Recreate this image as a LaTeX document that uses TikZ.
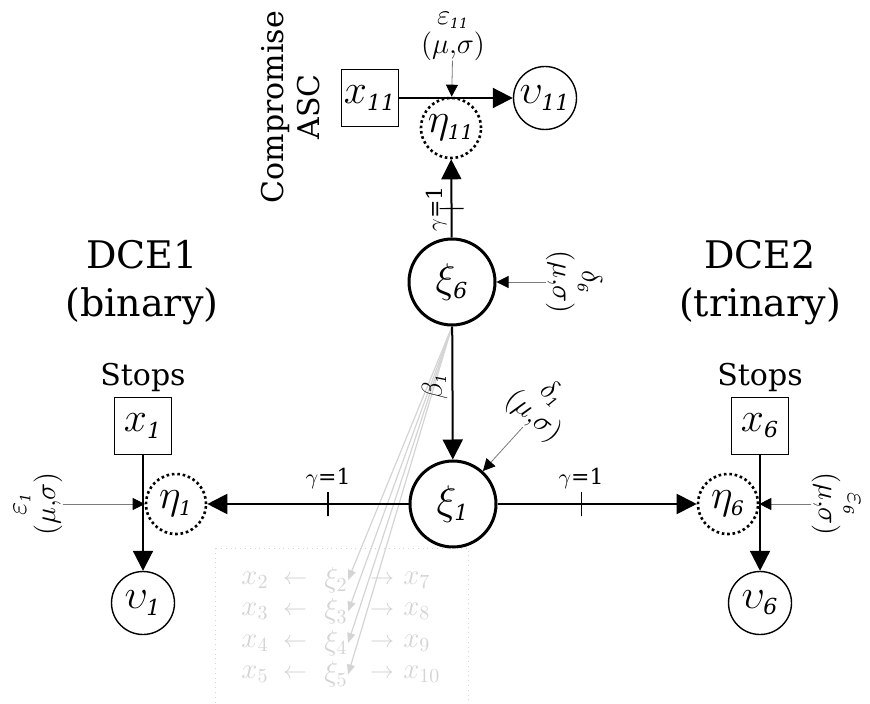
\documentclass[tikz,border=0pt]{standalone}
\usepackage{fontspec}
\setmainfont{DejaVu Serif}
\usetikzlibrary{arrows.meta,positioning}
\definecolor{faintgray}{HTML}{D4D4D4}
\definecolor{edgegray}{HTML}{7A7A7A}
\newcommand{\lsub}[1]{_{\scriptscriptstyle\mathit{#1}}}
\newcommand{\musig}{$(\mu{,}\sigma)$}

\begin{document}
\begin{tikzpicture}[
  x=0.5pt,y=-0.5pt,
  lat/.style={circle,draw,line width=1.5pt,minimum size=43pt,inner sep=0pt,
    font=\fontsize{22}{26}\selectfont},
  err/.style={circle,draw,line width=1.3pt,dash pattern=on 1.3pt off 1.4pt,
    minimum size=30pt,inner sep=0pt,font=\fontsize{20}{24}\selectfont},
  obs/.style={draw,line width=0.6pt,minimum size=28.5pt,inner sep=0pt,
    font=\fontsize{22}{26}\selectfont},
  util/.style={circle,draw,line width=0.7pt,minimum size=31.5pt,inner sep=0pt,
    font=\fontsize{22}{26}\selectfont},
  lab/.style={inner sep=0pt,align=center,font=\fontsize{14}{14.5}\selectfont},
  head/.style={inner sep=0pt,align=center,font=\fontsize{19}{24}\selectfont},
  sub/.style={inner sep=0pt,align=center,font=\fontsize{15}{18}\selectfont},
  gam/.style={inner sep=1pt,font=\fontsize{11}{13}\selectfont},
  tick/.style={draw,line width=0.6pt,minimum height=12pt,minimum width=0pt,
    inner sep=0pt,sloped},
  arrow/.style={-{Triangle[length=10pt,width=10pt]},line width=1pt},
  feed/.style={-{Triangle[length=6pt,width=6pt,color=black]},line width=0.4pt,
    draw=edgegray},
  ghost/.style={text=faintgray,inner sep=0pt,font=\fontsize{14}{16}\selectfont},
  ghostarrow/.style={-{Triangle[length=5pt,width=4pt]},draw=faintgray,
    line width=0.6pt}
]
\useasboundingbox (0,0) rectangle (870,704);

% latent variables
\node[lat] (xi6) at (452,282) {$\xi\lsub{6}$};
\node[lat] (xi1) at (453,504) {$\xi\lsub{1}$};

% compromise ASC
\node[obs] (x11) at (370,98) {$x\lsub{11}$};
\node[err] (eta11) at (451,128) {$\eta\lsub{11}$};
\node[util] (v11) at (545,98) {$\upsilon\lsub{11}$};
\node[sub,rotate=90] (asc) at (291,107) {Compromise\\ASC};
\node[lab] (e11) at (453,36) {$\varepsilon\lsub{11}$\\\musig};

% DCE1
\node[head] (dce1) at (142,283) {DCE1\\(binary)};
\node[obs] (x1) at (143,426) {$x\lsub{1}$};
\node[sub,above=2.5pt of x1] (stops1) {Stops};
\node[err] (eta1) at (176,504) {$\eta\lsub{1}$};
\node[util] (v1) at (143,603) {$\upsilon\lsub{1}$};
\node[lab,rotate=90] (e1) at (38,504) {$\varepsilon\lsub{1}$\\\musig};

% DCE2
\node[head] (dce2) at (760,283) {DCE2\\(trinary)};
\node[obs] (x6) at (760,426) {$x\lsub{6}$};
\node[sub,above=2.5pt of x6] (stops6) {Stops};
\node[err] (eta6) at (728,504) {$\eta\lsub{6}$};
\node[util] (v6) at (760,603) {$\upsilon\lsub{6}$};
\node[lab,rotate=-90] (e6) at (836,504) {$\varepsilon\lsub{6}$\\\musig};

% disturbances of the latents
\node[lab,rotate=-90] (d6) at (574,282) {$\delta\lsub{6}$\\\musig};
\node[lab,rotate=-40] (d1) at (542,406) {$\delta\lsub{1}$\\\musig};

% faded block
\draw[faintgray,dotted] (215,548) rectangle (468,716);
\foreach \i/\j [count=\r] in {2/7,3/8,4/9,5/10}{
  \node[ghost] (xa\i) at (255,548.5+31.5*\r) {$x_{\i}$};
  \node[ghost] (la\i) at (295,548.5+31.5*\r) {\fontsize{12}{12}\selectfont$\leftarrow$};
  \node[ghost] (xb\i) at (336,548.5+31.5*\r) {$\xi_{\i}$};
  \node[ghost] (ra\i) at (382,548.5+31.5*\r) {\fontsize{12}{12}\selectfont$\rightarrow$};
  \node[ghost,anchor=west] (xc\j) at (403,548.5+31.5*\r) {$x_{\j}$};
  \draw[ghostarrow] (xi6.south) -- (xb\i.east);
}

\draw[arrow] (x11) -- (v11);
\draw[feed] (e11) -- (eta11);
\draw[arrow] (xi6) -- node[tick,pos=.37]{} node[gam,pos=.37,rotate=90,anchor=south,inner sep=2pt]{$\gamma$=1} (eta11);
\draw[feed] (d6) -- (xi6);
\draw[arrow] (xi6) -- node[lab,pos=.45,rotate=90,anchor=south,inner sep=2pt]{$\beta\lsub{1}$} (xi1);
\draw[feed] (d1) -- (xi1);
\draw[arrow] (xi1) -- node[tick,pos=.4]{} node[gam,pos=.4,above=6pt]{$\gamma$=1} (eta1);
\draw[arrow] (xi1) -- node[tick,pos=.42]{} node[gam,pos=.42,above=6pt]{$\gamma$=1} (eta6);
\draw[arrow] (x1) -- (v1);
\draw[feed] (e1) -- (eta1.west);
\draw[arrow] (x6) -- (v6);
\draw[feed] (e6) -- (eta6.east);
\end{tikzpicture}
\end{document}
